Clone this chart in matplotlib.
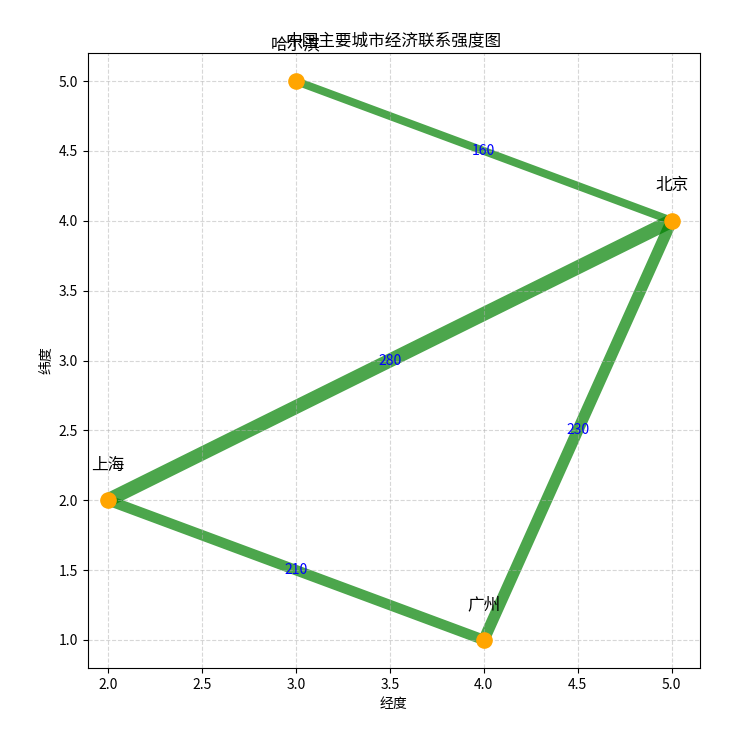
import matplotlib
matplotlib.use("Agg")
import matplotlib.pyplot as plt

plt.rcParams['font.family'] = ['Noto Sans CJK SC', 'DejaVu Sans']

cities = ['北京', '上海', '广州', '哈尔滨']
lons = [5, 2, 4, 3]
lats = [4, 2, 1, 5]
edges_from = ['哈尔滨', '北京', '北京', '上海']
edges_to = ['北京', '上海', '广州', '广州']
weights = [160, 280, 230, 210]

pos = {c: (x, y) for c, x, y in zip(cities, lons, lats)}

fig = plt.figure(figsize=(7.5, 7.38), dpi=100)
ax = fig.add_axes([0.117, 0.095, 0.816, 0.833])

for a, b, w in zip(edges_from, edges_to, weights):
    (x1, y1), (x2, y2) = pos[a], pos[b]
    ax.plot([x1, x2], [y1, y2], color='green', alpha=0.7, lw=w / 28,
            solid_capstyle='butt', zorder=1)
    ax.text((x1 + x2) / 2, (y1 + y2) / 2, str(w), color='blue', fontsize=10,
            ha='center', va='center', zorder=3)

ax.scatter(lons, lats, s=120, color='orange', zorder=2)
for c, x, y in zip(cities, lons, lats):
    ax.text(x, y + 0.19, c, fontsize=12, ha='center', va='bottom', zorder=3)

ax.set_xlim(1.893, 5.149)
ax.set_ylim(0.8, 5.2)
ax.grid(True, linestyle='--', alpha=0.5)
ax.set_xlabel('经度')
ax.set_ylabel('纬度')
ax.set_title('中国主要城市经济联系强度图')
fig.savefig('out.png', dpi=100)
